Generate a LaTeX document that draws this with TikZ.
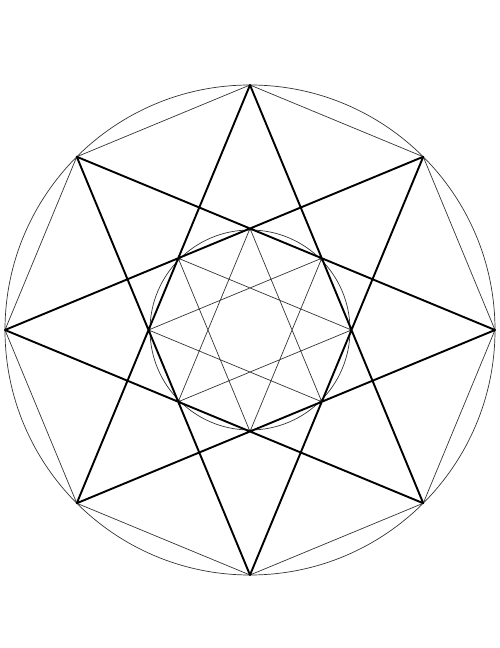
\documentclass[tikz,border=0pt]{standalone}
\usetikzlibrary{calc}
\begin{document}
\begin{tikzpicture}[x=1pt,y=1pt,
  thinline/.style={line width=0.7pt,draw=black!80},
  thickline/.style={line width=1.9pt,draw=black,line join=round}]
\useasboundingbox[fill=white] (0,0) rectangle (500,648);
\coordinate (C) at (250,318);
\foreach \i in {0,...,7} {
  \coordinate (O\i) at ($(C)+({90-45*\i}:245)$);
  \coordinate (I\i) at ($(C)+({90-45*\i}:101.5)$);
}
\draw[thinline] (C) circle (245);
\draw[thinline] (C) circle (100);
\draw[thinline] (O0)--(O1)--(O2)--(O3)--(O4)--(O5)--(O6)--(O7)--cycle;
\draw[thinline] (I0)--(I3)--(I6)--(I1)--(I4)--(I7)--(I2)--(I5)--cycle;
\draw[thickline] (O0)--(O3)--(O6)--(O1)--(O4)--(O7)--(O2)--(O5)--cycle;
\end{tikzpicture}
\end{document}
